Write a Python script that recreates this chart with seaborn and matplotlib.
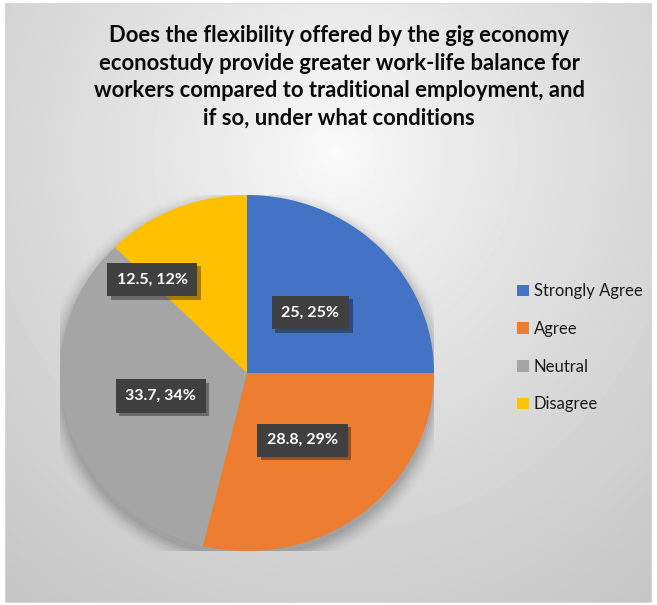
import numpy as np
import matplotlib
matplotlib.use("Agg")
import matplotlib.pyplot as plt
import matplotlib.patheffects as pe
from matplotlib.patches import Rectangle
import seaborn as sns

# ---- data ----
categories = ["Strongly Agree", "Agree", "Neutral", "Disagree"]
values = [25, 28.8, 33.7, 12.5]
colors = ["#4472C4", "#ED7D31", "#A5A5A5", "#FFC000"]
title = ("Does the flexibility offered by the gig economy\n"
         "econostudy provide greater work-life balance for\n"
         "workers compared to traditional employment, and\n"
         "if so, under what conditions")

sns.set_theme(style="white")
plt.rcParams['font.family'] = ['Lato', 'DejaVu Sans']

W, H = 657, 605
fig = plt.figure(figsize=(W / 100, H / 100), dpi=100)
fig.patch.set_facecolor("white")

# background gradient panel
bg = fig.add_axes([5 / W, 2 / H, 647 / W, 600 / H])
bg.set_axis_off()
yy, xx = np.mgrid[0:600, 0:647]
d = np.sqrt(((xx - 330) / 520.0) ** 2 + ((yy - 150) / 560.0) ** 2)
d = np.clip(d, 0, 1)
top, bot = 0.985, 0.775
grad = top - (top - bot) * d ** 0.8
bg.imshow(grad, cmap="gray", vmin=0, vmax=1, aspect="auto",
          extent=[0, 647, 600, 0], interpolation="bilinear")
bg.add_patch(Rectangle((0, 0), 647, 600, fill=False, edgecolor="#d9d9d9",
                       linewidth=1.2))
bg.set_xlim(0, 647)
bg.set_ylim(600, 0)

# pie axes
cx, cy, rx, ry = 247, 373, 187, 178
ax = fig.add_axes([(cx - rx) / W, (H - cy - ry) / H, 2 * rx / W, 2 * ry / H])
ax.set_axis_off()

# soft shadow under the pie
for i, a in enumerate(np.linspace(0.05, 0.012, 8)):
    s = 1.0 + 0.012 * i
    t = np.linspace(0, 2 * np.pi, 200)
    ax.fill(s * np.cos(t), s * np.sin(t) - 0.035, color="black", alpha=a,
            linewidth=0, zorder=0)

wedges, _ = ax.pie(values, colors=colors, startangle=90, counterclock=False,
                   radius=1.0, wedgeprops=dict(linewidth=0, zorder=2))
ax.set_xlim(-1, 1)
ax.set_ylim(-1, 1)
ax.set_aspect("auto")

total = sum(values)
label_r = [0.48, 0.48, 0.48, 0.73]
label_da = [0, 0, 0, 21.5]
for w, v, r, da in zip(wedges, values, label_r, label_da):
    ang = np.deg2rad((w.theta1 + w.theta2) / 2 + da)
    pct = round(v / total * 100)
    txt = ax.text(r * np.cos(ang), r * np.sin(ang), f"{v:g}, {pct}%",
                  ha="center", va="center", color="white", fontsize=11.5,
                  fontweight="bold", zorder=5,
                  bbox=dict(boxstyle="square,pad=0.6", facecolor="#404040",
                            edgecolor="none"))
    txt.get_bbox_patch().set_path_effects(
        [pe.SimplePatchShadow(offset=(2.5, -2.5), shadow_rgbFace="black",
                              alpha=0.35), pe.Normal()])

# title
fig.text(339 / W, 1 - 77 / H, title, ha="center", va="center",
         fontsize=15.8, fontweight="bold", color="#0a0a0a", linespacing=1.38)

# legend
leg = fig.legend(wedges, categories, loc="center left",
                 bbox_to_anchor=(502 / W, 1 - 348 / H), frameon=False,
                 fontsize=12, handlelength=0.7, handleheight=0.7,
                 handletextpad=0.3, labelspacing=1.3, labelcolor="#1a1a1a")

fig.savefig("out.png", dpi=100)
